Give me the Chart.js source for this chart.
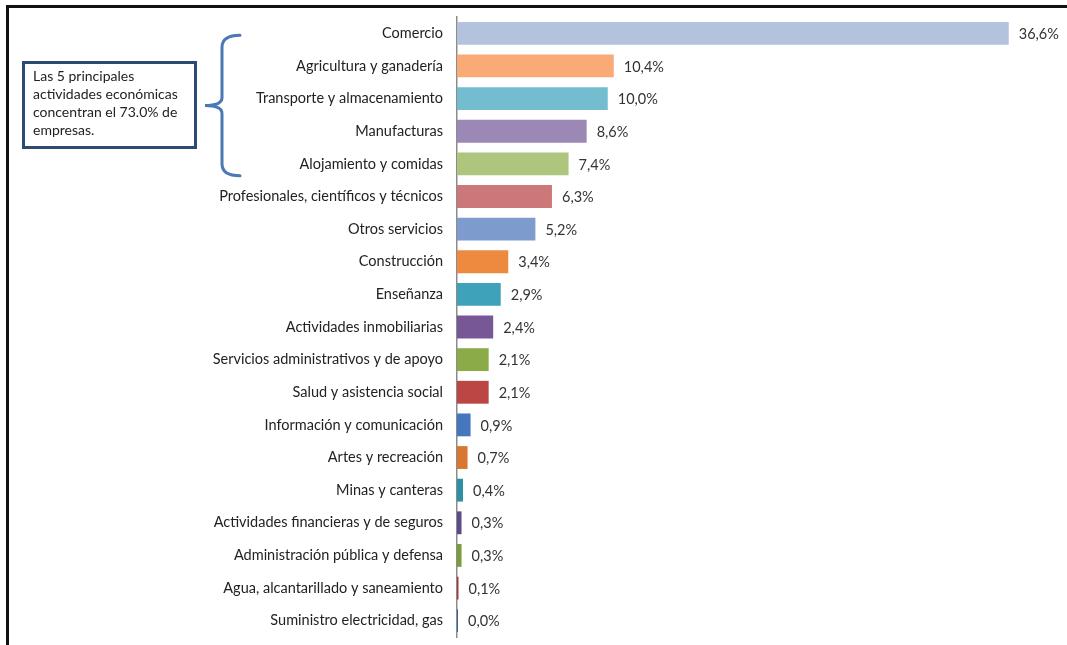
<!DOCTYPE html>
<html>
<head>
<meta charset="utf-8">
<script src="https://cdn.jsdelivr.net/npm/chart.js@4/dist/chart.umd.min.js"></script>
<style>
    html, body { margin: 0; padding: 0; background: #fff; }
    #wrap { position: relative; width: 1067px; height: 645px; overflow: hidden; }
    #frame { position: absolute; left: 6px; top: 5px; right: -5px; bottom: -5px; border-top: 3px solid #111; border-left: 3px solid #111; }
    #note {
        position: absolute; left: 22px; top: 61px; width: 175px; height: 88px;
        border: 3px solid #2b4b72; padding: 3px 0 0 8px; box-sizing: border-box;
        white-space: nowrap;
        font-family: Lato, "Open Sans", sans-serif; font-size: 14px; line-height: 18px; color: #222;
    }
    canvas { position: absolute; left: 0; top: 0; }
</style>
</head>
<body>
<div id="wrap">
    <canvas id="myChart" width="1067" height="645"></canvas>
    <div id="frame"></div>
    <div id="note">Las 5 principales<br>actividades económicas<br>concentran el 73.0% de<br>empresas.</div>
</div>
<script>
const categories = [
    'Comercio',
    'Agricultura y ganadería',
    'Transporte y almacenamiento',
    'Manufacturas',
    'Alojamiento y comidas',
    'Profesionales, científicos y técnicos',
    'Otros servicios',
    'Construcción',
    'Enseñanza',
    'Actividades inmobiliarias',
    'Servicios administrativos y de apoyo',
    'Salud y asistencia social',
    'Información y comunicación',
    'Artes y recreación',
    'Minas y canteras',
    'Actividades financieras y de seguros',
    'Administración pública y defensa',
    'Agua, alcantarillado y saneamiento',
    'Suministro electricidad, gas'
];

const shares = [36.6, 10.4, 10.0, 8.6, 7.4, 6.3, 5.2, 3.4, 2.9, 2.4, 2.1, 2.1, 0.9, 0.7, 0.4, 0.3, 0.3, 0.1, 0.0];

const barColors = [
    '#b4c3dd', '#f9aa77', '#74bccf', '#9b88b5', '#adc57d',
    '#cd7878', '#7e9bce', '#ed8a3f', '#3da2ba', '#785797',
    '#8aab48', '#bb4644', '#4677be', '#d8772f', '#2f8fa5',
    '#5f4a85', '#7b9b3d', '#a53a3a', '#3c6497'
];

// value labels at the end of each bar, e.g. "10,4%"
const valueLabels = {
    id: 'valueLabels',
    afterDatasetsDraw(chart) {
        const ctx = chart.ctx;
        const meta = chart.getDatasetMeta(0);
        ctx.save();
        ctx.font = '14.5px Lato, "Open Sans", sans-serif';
        ctx.fillStyle = '#333';
        ctx.textBaseline = 'middle';
        meta.data.forEach((bar, i) => {
            const txt = shares[i].toFixed(1).replace('.', ',') + '%';
            ctx.fillText(txt, bar.x + 10, bar.y + 1);
        });
        ctx.restore();
    }
};

// curly brace grouping the five biggest activities
const brace = {
    id: 'brace',
    afterDraw(chart) {
        const ctx = chart.ctx;
        const y = chart.scales.y;
        const top = y.getPixelForValue(0) + 2;
        const bottom = y.getPixelForValue(4) + 12;
        const mid = (top + bottom) / 2;
        ctx.save();
        ctx.strokeStyle = '#4a79b6';
        ctx.lineWidth = 3;
        ctx.lineCap = 'round';
        ctx.beginPath();
        ctx.moveTo(240, top);
        ctx.quadraticCurveTo(222, top, 222, top + 12);
        ctx.lineTo(222, mid - 8);
        ctx.quadraticCurveTo(222, mid, 205, mid);
        ctx.quadraticCurveTo(222, mid, 222, mid + 8);
        ctx.lineTo(222, bottom - 12);
        ctx.quadraticCurveTo(222, bottom, 240, bottom);
        ctx.stroke();
        ctx.restore();
    }
};

var ctx = document.getElementById('myChart').getContext('2d');
var chart = new Chart(ctx, { //eslint-disable-line
    type: 'bar',
    data: {
        labels: categories,
        datasets: [{
            data: shares,
            backgroundColor: barColors,
            barPercentage: 0.7,
            categoryPercentage: 1.0,
            minBarLength: 1
        }]
    },
    options: {
        indexAxis: 'y',
        responsive: false,
        animation: false,
        layout: { padding: { top: 17, bottom: 8, right: 7, left: 0 } },
        plugins: {
            legend: { display: false },
            tooltip: { enabled: false }
        },
        scales: {
            x: {
                display: false,
                min: 0,
                max: 40
            },
            y: {
                afterFit(scale) {
                    scale.width = 457;
                    scale.paddingTop = 0;
                    scale.paddingBottom = 0;
                },
                grid: { display: false, drawTicks: false },
                border: { display: true, color: '#8c8c8c', width: 1.5 },
                ticks: {
                    padding: 14,
                    color: '#222',
                    font: { family: 'Lato, "Open Sans", sans-serif', size: 14.5 }
                }
            }
        }
    },
    plugins: [valueLabels, brace]
});
</script>
</body>
</html>
